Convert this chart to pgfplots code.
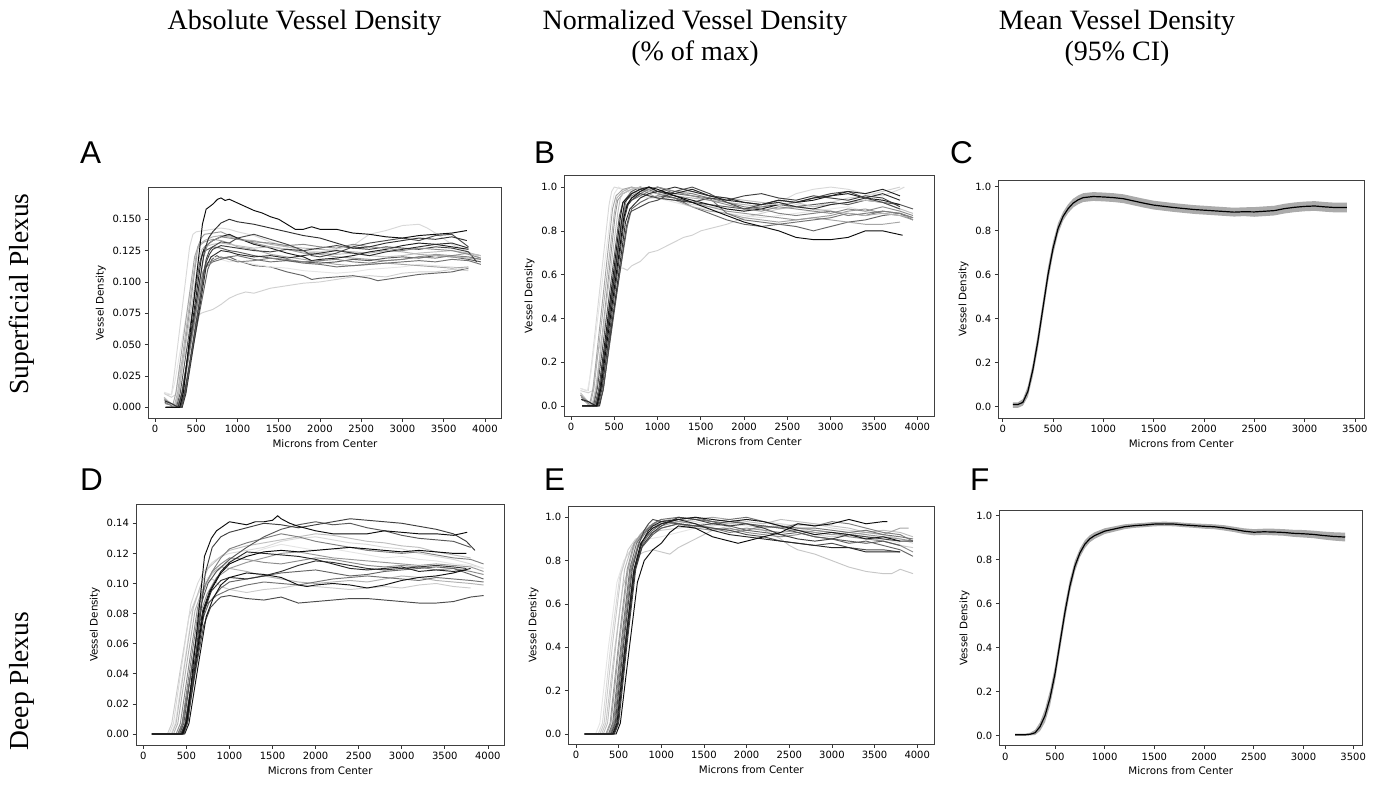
\documentclass[border=0pt]{standalone}
\usepackage{fontspec}
\setmainfont{Liberation Serif}
\newfontfamily\dejavu{DejaVu Sans}
\newfontfamily\arialf{Liberation Sans}
\usepackage{pgfplots}
\usepackage{pgfplotstable}
\pgfplotsset{compat=1.18}
\usepgfplotslibrary{fillbetween}

\pgfplotstableread{
x mean lo hi
100 0.010 -0.005 0.020
150 0.010 -0.005 0.020
200 0.020 0.005 0.035
250 0.070 0.045 0.095
300 0.170 0.140 0.200
350 0.300 0.265 0.335
400 0.450 0.415 0.485
450 0.600 0.565 0.635
500 0.720 0.690 0.750
550 0.810 0.785 0.835
600 0.865 0.845 0.885
650 0.900 0.880 0.920
700 0.925 0.905 0.945
750 0.940 0.920 0.960
800 0.950 0.930 0.970
900 0.955 0.935 0.975
1000 0.953 0.933 0.973
1100 0.950 0.930 0.970
1200 0.945 0.925 0.965
1300 0.935 0.915 0.955
1400 0.925 0.905 0.945
1500 0.916 0.896 0.936
1700 0.905 0.885 0.925
1900 0.896 0.876 0.916
2100 0.890 0.870 0.910
2300 0.884 0.864 0.904
2400 0.886 0.866 0.906
2500 0.885 0.863 0.907
2600 0.888 0.866 0.910
2700 0.891 0.869 0.913
2800 0.900 0.878 0.922
2900 0.906 0.884 0.928
3000 0.910 0.888 0.932
3100 0.912 0.890 0.934
3200 0.908 0.886 0.930
3300 0.905 0.883 0.927
3420 0.905 0.883 0.927
}\tabC

\pgfplotstableread{
x mean lo hi
100 0.003 -0.002 0.008
200 0.003 -0.002 0.008
250 0.005 0.000 0.012
300 0.012 0.002 0.025
350 0.040 0.020 0.060
400 0.090 0.060 0.120
450 0.170 0.135 0.205
500 0.280 0.245 0.315
550 0.420 0.385 0.455
600 0.560 0.525 0.595
650 0.680 0.650 0.710
700 0.770 0.745 0.795
750 0.830 0.810 0.850
800 0.870 0.852 0.888
850 0.895 0.879 0.911
900 0.910 0.895 0.925
1000 0.930 0.917 0.943
1100 0.940 0.928 0.952
1200 0.950 0.939 0.961
1300 0.955 0.945 0.965
1400 0.958 0.948 0.968
1500 0.962 0.952 0.972
1600 0.963 0.953 0.973
1700 0.962 0.952 0.972
1800 0.958 0.948 0.968
1900 0.955 0.945 0.965
2000 0.952 0.941 0.963
2100 0.950 0.939 0.961
2200 0.945 0.933 0.957
2300 0.938 0.926 0.950
2400 0.930 0.917 0.943
2500 0.925 0.911 0.939
2600 0.927 0.913 0.941
2700 0.926 0.911 0.941
2800 0.924 0.909 0.939
2900 0.920 0.904 0.936
3000 0.918 0.901 0.935
3100 0.915 0.898 0.932
3200 0.910 0.892 0.928
3300 0.906 0.887 0.925
3420 0.903 0.883 0.923
}\tabF

\pgfplotsset{
  panel/.style={
    scale only axis, anchor=south west,
    tick align=outside, major tick length=3.5pt,
    tick style={black!80, line width=0.7pt},
    axis line style={black!75, line width=0.8pt},
    tick label style={font=\dejavu\fontsize{10}{12}\selectfont},
    label style={font=\dejavu\fontsize{10.3}{12}\selectfont},
    /pgf/number format/assume math mode=true,
    /pgf/number format/1000 sep={},
    xlabel={Microns from Center}, ylabel={Vessel Density},
    every axis plot/.append style={line width=0.95pt, mark=none},
    xticklabel style={/pgf/number format/fixed},
  },
  y3/.style={yticklabel style={/pgf/number format/.cd, fixed, fixed zerofill, precision=3}},
  y2/.style={yticklabel style={/pgf/number format/.cd, fixed, fixed zerofill, precision=2}},
  y1/.style={yticklabel style={/pgf/number format/.cd, fixed, fixed zerofill, precision=1}},
}

\begin{document}
\begin{tikzpicture}
\path (0,0) rectangle (1378pt,-784pt);

% column titles
\node[anchor=base, font=\fontsize{28}{30}\selectfont] at (304.5pt,-30pt) {Absolute Vessel Density};
\node[anchor=base, font=\fontsize{28}{30}\selectfont] at (695pt,-30pt) {Normalized Vessel Density};
\node[anchor=base, font=\fontsize{28}{30}\selectfont] at (695pt,-60pt) {(\% of max)};
\node[anchor=base, font=\fontsize{28}{30}\selectfont] at (1117pt,-30pt) {Mean Vessel Density};
\node[anchor=base, font=\fontsize{28}{30}\selectfont] at (1117pt,-60pt) {(95\% CI)};
% row labels
\node[anchor=base, rotate=90, font=\fontsize{27.5}{30}\selectfont] at (28pt,-294pt) {Superficial Plexus};
\node[anchor=base, rotate=90, font=\fontsize{27.5}{30}\selectfont] at (28pt,-681pt) {Deep Plexus};
% panel letters
\node[anchor=base west, inner sep=0pt, font=\arialf\fontsize{31.5}{32}\selectfont] at (80pt,-163.5pt) {A};
\node[anchor=base west, inner sep=0pt, font=\arialf\fontsize{31.5}{32}\selectfont] at (534pt,-163.5pt) {B};
\node[anchor=base west, inner sep=0pt, font=\arialf\fontsize{31.5}{32}\selectfont] at (950pt,-163.5pt) {C};
\node[anchor=base west, inner sep=0pt, font=\arialf\fontsize{31.5}{32}\selectfont] at (80pt,-490pt) {D};
\node[anchor=base west, inner sep=0pt, font=\arialf\fontsize{31.5}{32}\selectfont] at (544pt,-490pt) {E};
\node[anchor=base west, inner sep=0pt, font=\arialf\fontsize{31.5}{32}\selectfont] at (970pt,-490pt) {F};

% ---------------- A ----------------
\begin{axis}[panel, y3, xtick pos=left, ytick pos=left, at={(148.3pt,-418.3pt)}, width=353.4pt, height=231pt,
  xmin=-81, xmax=4203, ymin=-0.0088, ymax=0.1755,
  xtick={0,500,1000,1500,2000,2500,3000,3500,4000},
  ytick={0,0.025,0.05,0.075,0.1,0.125,0.15}]
\addplot[black!18] coordinates {(110,0.011) (200,0.008) (250,0.010) (300,0.030) (520,0.073) (560,0.075) (600,0.076) (700,0.078) (800,0.082) (900,0.087) (1000,0.090) (1100,0.092) (1200,0.091) (1300,0.093) (1400,0.095) (1600,0.097) (1800,0.099) (2000,0.100) (2200,0.102) (2400,0.104) (2600,0.105) (2800,0.104) (3000,0.107) (3200,0.108) (3400,0.108) (3600,0.110) (3800,0.109)};
\addplot[black!15] coordinates {(110,0.011) (180,0.010) (200,0.010) (240,0.030) (420,0.128) (460,0.138) (500,0.140) (600,0.141) (700,0.142) (800,0.143) (900,0.142) (1000,0.140) (1200,0.137) (1400,0.132) (1600,0.128) (1800,0.125) (2000,0.124) (2200,0.126) (2400,0.129) (2600,0.138) (2800,0.141) (3000,0.145) (3200,0.146) (3300,0.143) (3400,0.139) (3600,0.130) (3800,0.124) (3950,0.119)};
\addplot[black!60] coordinates {(120,0.004) (300,0) (350,0.010) (640,0.110) (690,0.118) (750,0.121) (800,0.119) (900,0.120) (1000,0.117) (1100,0.115) (1200,0.113) (1400,0.112) (1600,0.108) (1800,0.105) (1900,0.102) (2000,0.103) (2200,0.104) (2400,0.105) (2600,0.103) (2700,0.101) (2800,0.102) (3000,0.104) (3200,0.106) (3400,0.107) (3600,0.108) (3800,0.111)};
\addplot[black!10] coordinates {(110,0.012) (200,0.010) (240,0.020) (480,0.112) (520,0.120) (600,0.121) (700,0.120) (800,0.118) (900,0.116) (1000,0.117) (1200,0.114) (1400,0.112) (1600,0.111) (1800,0.109) (2000,0.108) (2200,0.107) (2400,0.108) (2600,0.110) (2800,0.111) (3000,0.112) (3200,0.114) (3400,0.113) (3600,0.112) (3800,0.110)};
\addplot[black!35] coordinates {(110,0.007) (210,0) (255,0.012) (480,0.120) (520,0.128) (600,0.132) (700,0.134) (800,0.133) (900,0.131) (1000,0.128) (1200,0.126) (1400,0.122) (1600,0.120) (1800,0.118) (2000,0.116) (2200,0.114) (2400,0.113) (2600,0.114) (2800,0.115) (3000,0.114) (3200,0.113) (3400,0.112) (3600,0.111) (3800,0.112)};
\addplot[black!40] coordinates {(110,0.006) (250,0) (290,0.012) (520,0.128) (560,0.135) (600,0.138) (700,0.139) (800,0.140) (900,0.137) (1000,0.135) (1200,0.131) (1400,0.128) (1600,0.126) (1800,0.123) (2000,0.122) (2200,0.120) (2400,0.119) (2600,0.118) (2800,0.117) (3000,0.118) (3200,0.120) (3400,0.122) (3600,0.121) (3800,0.123) (3950,0.121)};
\addplot[black!55] coordinates {(130,0) (270,0) (320,0.010) (570,0.104) (620,0.112) (700,0.116) (800,0.118) (900,0.120) (1000,0.121) (1200,0.118) (1400,0.116) (1600,0.117) (1800,0.115) (2000,0.114) (2200,0.112) (2400,0.113) (2600,0.114) (2800,0.115) (3000,0.116) (3200,0.117) (3400,0.116) (3600,0.118) (3800,0.117) (3950,0.114)};
\addplot[black!65] coordinates {(120,0.004) (260,0) (305,0.011) (540,0.115) (580,0.124) (700,0.128) (800,0.127) (900,0.125) (1000,0.124) (1200,0.121) (1400,0.119) (1600,0.117) (1800,0.116) (2000,0.115) (2200,0.116) (2400,0.118) (2600,0.117) (2800,0.119) (3000,0.120) (3200,0.119) (3400,0.121) (3600,0.120) (3800,0.118) (3950,0.116)};
\addplot[black!30] coordinates {(120,0.005) (230,0) (275,0.012) (500,0.122) (540,0.130) (600,0.133) (700,0.136) (800,0.137) (900,0.136) (1000,0.134) (1200,0.133) (1400,0.130) (1600,0.128) (1800,0.127) (2000,0.126) (2200,0.125) (2400,0.124) (2600,0.123) (2800,0.125) (3000,0.124) (3200,0.122) (3400,0.121) (3600,0.120) (3800,0.119) (3950,0.118)};
\addplot[black!88] coordinates {(140,0) (290,0) (335,0.011) (560,0.118) (600,0.128) (700,0.133) (800,0.136) (900,0.138) (1000,0.135) (1200,0.130) (1400,0.127) (1600,0.123) (1800,0.120) (1900,0.117) (2000,0.118) (2200,0.119) (2400,0.121) (2600,0.124) (2800,0.126) (3000,0.129) (3200,0.131) (3400,0.130) (3600,0.128) (3800,0.126)};
\addplot[black!50] coordinates {(120,0.003) (290,0) (335,0.010) (580,0.108) (630,0.115) (700,0.117) (800,0.120) (900,0.118) (1000,0.116) (1200,0.117) (1400,0.119) (1600,0.118) (1800,0.116) (2000,0.117) (2200,0.118) (2400,0.116) (2600,0.115) (2800,0.117) (3000,0.118) (3200,0.120) (3400,0.119) (3600,0.121) (3800,0.120) (3950,0.118)};
\addplot[black!25] coordinates {(110,0.008) (240,0) (285,0.012) (530,0.118) (570,0.126) (600,0.128) (700,0.130) (800,0.131) (900,0.130) (1000,0.129) (1200,0.127) (1400,0.128) (1600,0.126) (1800,0.124) (2000,0.123) (2200,0.122) (2400,0.123) (2600,0.121) (2800,0.120) (3000,0.121) (3200,0.123) (3400,0.124) (3600,0.125) (3800,0.123) (3950,0.121)};
\addplot[black!75] coordinates {(130,0) (310,0) (360,0.011) (610,0.114) (660,0.122) (700,0.126) (800,0.129) (900,0.128) (1000,0.127) (1200,0.125) (1400,0.124) (1600,0.126) (1800,0.125) (2000,0.127) (2200,0.129) (2400,0.127) (2600,0.126) (2800,0.128) (3000,0.127) (3200,0.126) (3400,0.128) (3600,0.127) (3800,0.124) (3900,0.116)};
\addplot[black!82] coordinates {(130,0) (330,0) (375,0.011) (620,0.112) (680,0.120) (800,0.125) (900,0.124) (1000,0.122) (1200,0.120) (1400,0.121) (1600,0.119) (1800,0.121) (2000,0.123) (2200,0.125) (2400,0.123) (2600,0.121) (2800,0.124) (3000,0.126) (3200,0.128) (3400,0.130) (3600,0.131) (3800,0.127)};
\addplot[black!45] coordinates {(120,0.006) (280,0) (330,0.012) (590,0.120) (640,0.130) (700,0.133) (800,0.136) (900,0.135) (1000,0.134) (1200,0.132) (1400,0.131) (1600,0.129) (1800,0.130) (2000,0.128) (2200,0.127) (2400,0.130) (2600,0.128) (2800,0.127) (3000,0.125) (3200,0.127) (3400,0.126) (3600,0.125) (3800,0.122) (3950,0.119)};
\addplot[black!70] coordinates {(130,0) (320,0) (370,0.012) (620,0.118) (660,0.125) (700,0.128) (800,0.132) (900,0.131) (1000,0.135) (1200,0.138) (1400,0.134) (1600,0.130) (1800,0.125) (1900,0.121) (2000,0.120) (2200,0.123) (2400,0.128) (2600,0.131) (2800,0.133) (3000,0.135) (3200,0.133) (3400,0.137) (3600,0.138) (3800,0.128)};
\addplot[black!80] coordinates {(120,0.005) (200,0.003) (280,0) (330,0.012) (600,0.125) (650,0.135) (700,0.140) (800,0.147) (900,0.150) (1000,0.148) (1100,0.147) (1200,0.146) (1400,0.143) (1600,0.140) (1800,0.137) (2000,0.135) (2200,0.131) (2400,0.127) (2600,0.128) (2800,0.131) (3000,0.133) (3200,0.135) (3400,0.134) (3600,0.136) (3780,0.133)};
\addplot[black!95] coordinates {(130,0) (300,0) (345,0.012) (575,0.146) (620,0.158) (700,0.162) (760,0.166) (800,0.167) (850,0.165) (900,0.166) (1000,0.163) (1100,0.160) (1200,0.157) (1300,0.155) (1400,0.152) (1500,0.150) (1600,0.146) (1700,0.142) (1800,0.142) (1900,0.144) (2000,0.142) (2200,0.142) (2400,0.139) (2600,0.138) (2800,0.136) (3000,0.135) (3200,0.137) (3400,0.138) (3600,0.139) (3780,0.141)};
\end{axis}

% ---------------- B ----------------
\begin{axis}[panel, y1, xtick pos=left, ytick pos=left, at={(564.3pt,-416pt)}, width=369.7pt, height=240.3pt,
  xmin=-77, xmax=4193, ymin=-0.046, ymax=1.052,
  xtick={0,500,1000,1500,2000,2500,3000,3500,4000},
  ytick={0,0.2,0.4,0.6,0.8,1.0}]
\addplot[black!18] coordinates {(110,0.07) (200,0.06) (250,0.07) (300,0.22) (530,0.61) (570,0.63) (600,0.63) (650,0.62) (700,0.64) (800,0.66) (900,0.70) (1000,0.71) (1100,0.73) (1200,0.75) (1300,0.77) (1400,0.78) (1500,0.80) (1600,0.81) (1700,0.82) (1800,0.83) (2000,0.86) (2200,0.88) (2400,0.90) (2600,0.92) (2800,0.91) (3000,0.93) (3200,0.95) (3400,0.96) (3600,0.98) (3800,1.0)};
\addplot[black!15] coordinates {(110,0.08) (180,0.07) (200,0.07) (240,0.20) (440,0.92) (470,0.98) (500,1.0) (600,0.99) (700,0.98) (800,0.97) (900,0.96) (1000,0.95) (1200,0.94) (1400,0.92) (1600,0.91) (1800,0.90) (2000,0.89) (2200,0.91) (2400,0.93) (2600,0.97) (2800,0.99) (3000,1.0) (3200,0.99) (3400,0.97) (3600,0.96) (3800,0.99) (3850,1.0)};
\addplot[black!60] coordinates {(120,0.03) (300,0) (350,0.08) (650,0.82) (700,0.90) (800,0.93) (900,0.95) (1000,0.96) (1200,0.95) (1400,0.91) (1600,0.88) (1800,0.85) (2000,0.83) (2200,0.82) (2400,0.83) (2600,0.82) (2800,0.80) (3000,0.82) (3200,0.84) (3400,0.85) (3600,0.87) (3800,0.88) (3950,0.85)};
\addplot[black!10] coordinates {(110,0.08) (190,0.07) (230,0.15) (470,0.91) (500,0.97) (550,1.0) (600,0.99) (700,0.97) (800,0.96) (900,0.95) (1000,0.95) (1200,0.93) (1400,0.91) (1600,0.90) (1800,0.88) (2000,0.87) (2200,0.86) (2400,0.87) (2600,0.88) (2800,0.89) (3000,0.90) (3200,0.91) (3400,0.89) (3600,0.88) (3800,0.87)};
\addplot[black!35] coordinates {(110,0.05) (210,0) (255,0.08) (480,0.90) (520,0.96) (600,0.99) (700,1.0) (800,0.99) (900,0.97) (1000,0.95) (1200,0.94) (1400,0.91) (1600,0.89) (1800,0.88) (2000,0.86) (2200,0.85) (2400,0.84) (2600,0.85) (2800,0.86) (3000,0.85) (3200,0.84) (3400,0.83) (3600,0.83) (3800,0.84)};
\addplot[black!40] coordinates {(110,0.05) (250,0) (295,0.08) (510,0.87) (540,0.94) (600,0.97) (700,0.99) (800,1.0) (900,0.98) (1000,0.97) (1200,0.95) (1400,0.93) (1600,0.91) (1800,0.89) (2000,0.88) (2200,0.87) (2400,0.86) (2600,0.85) (2800,0.86) (3000,0.87) (3200,0.89) (3400,0.90) (3600,0.88) (3800,0.87) (3950,0.85)};
\addplot[black!55] coordinates {(130,0) (270,0) (320,0.07) (580,0.84) (620,0.90) (700,0.94) (800,0.96) (900,0.98) (1000,1.0) (1200,0.97) (1400,0.96) (1600,0.95) (1800,0.88) (2000,0.85) (2200,0.84) (2400,0.83) (2600,0.84) (2800,0.85) (3000,0.86) (3200,0.88) (3400,0.87) (3600,0.89) (3800,0.88) (3950,0.86)};
\addplot[black!65] coordinates {(120,0.03) (260,0) (305,0.08) (560,0.87) (600,0.93) (700,0.98) (800,1.0) (900,0.99) (1000,0.97) (1200,0.95) (1400,0.93) (1600,0.92) (1800,0.91) (2000,0.90) (2200,0.91) (2400,0.92) (2600,0.91) (2800,0.92) (3000,0.93) (3200,0.92) (3400,0.94) (3600,0.93) (3800,0.92) (3950,0.90)};
\addplot[black!30] coordinates {(120,0.04) (220,0) (265,0.08) (500,0.88) (530,0.95) (600,0.98) (700,1.0) (800,0.99) (900,0.98) (1000,0.97) (1200,0.96) (1400,0.95) (1600,0.94) (1800,0.93) (2000,0.92) (2200,0.91) (2400,0.90) (2600,0.91) (2800,0.90) (3000,0.89) (3200,0.88) (3400,0.87) (3600,0.88) (3800,0.87) (3950,0.86)};
\addplot[black!90] coordinates {(140,0) (280,0) (325,0.08) (570,0.86) (600,0.93) (700,0.97) (800,0.99) (900,1.0) (1000,0.98) (1200,0.96) (1400,0.94) (1600,0.92) (1800,0.90) (2000,0.89) (2200,0.90) (2400,0.92) (2600,0.93) (2800,0.94) (3000,0.96) (3200,0.97) (3400,0.95) (3600,0.94) (3800,0.92)};
\addplot[black!50] coordinates {(120,0.03) (290,0) (335,0.08) (590,0.84) (630,0.91) (700,0.95) (800,0.97) (900,0.99) (1000,1.0) (1200,0.98) (1400,0.97) (1600,0.95) (1800,0.93) (2000,0.91) (2200,0.90) (2400,0.88) (2600,0.87) (2800,0.88) (3000,0.89) (3200,0.87) (3400,0.88) (3600,0.89) (3800,0.88) (3950,0.86)};
\addplot[black!25] coordinates {(110,0.06) (240,0) (285,0.08) (540,0.88) (570,0.95) (600,0.97) (700,0.99) (800,1.0) (900,0.99) (1000,0.98) (1200,0.97) (1400,0.98) (1600,0.96) (1800,0.95) (2000,0.94) (2200,0.93) (2400,0.92) (2600,0.93) (2800,0.91) (3000,0.92) (3200,0.93) (3400,0.94) (3600,0.93) (3800,0.90) (3950,0.88)};
\addplot[black!75] coordinates {(130,0) (310,0) (360,0.08) (620,0.86) (660,0.92) (700,0.94) (800,0.97) (900,0.96) (1000,0.95) (1200,0.94) (1400,0.93) (1600,0.95) (1800,0.94) (2000,0.96) (2200,0.97) (2400,0.95) (2600,0.94) (2800,0.96) (3000,0.95) (3200,0.94) (3400,0.96) (3600,0.95) (3800,0.91)};
\addplot[black!82] coordinates {(130,0) (330,0) (375,0.08) (630,0.84) (680,0.90) (800,0.95) (900,0.97) (1000,0.98) (1200,1.0) (1400,0.98) (1600,0.96) (1800,0.95) (2000,0.93) (2200,0.92) (2400,0.93) (2600,0.91) (2800,0.90) (3000,0.92) (3200,0.93) (3400,0.95) (3600,0.97) (3800,0.94)};
\addplot[black!45] coordinates {(120,0.04) (280,0) (330,0.08) (600,0.87) (640,0.94) (700,0.96) (800,0.98) (900,0.99) (1000,1.0) (1200,0.98) (1400,0.96) (1600,0.94) (1800,0.92) (2000,0.90) (2200,0.89) (2400,0.91) (2600,0.90) (2800,0.89) (3000,0.88) (3200,0.90) (3400,0.89) (3600,0.91) (3800,0.89) (3950,0.87)};
\addplot[black!70] coordinates {(130,0) (320,0) (370,0.07) (640,0.82) (680,0.88) (700,0.89) (800,0.91) (900,0.93) (1000,0.94) (1200,0.98) (1400,1.0) (1600,0.97) (1800,0.93) (2000,0.90) (2200,0.92) (2400,0.94) (2600,0.93) (2800,0.95) (3000,0.97) (3200,0.98) (3400,0.95) (3600,0.93) (3800,0.90)};
\addplot[black!85] coordinates {(120,0.03) (200,0.02) (290,0) (335,0.08) (590,0.86) (620,0.93) (700,0.97) (800,0.99) (900,1.0) (1000,0.98) (1200,0.97) (1400,0.99) (1600,0.96) (1800,0.94) (2000,0.93) (2200,0.92) (2400,0.94) (2600,0.93) (2800,0.95) (3000,0.96) (3200,0.98) (3400,0.97) (3600,0.99) (3800,0.96)};
\addplot[black!95] coordinates {(130,0) (300,0) (345,0.08) (610,0.86) (650,0.92) (700,0.95) (800,0.98) (900,1.0) (1000,0.99) (1200,0.96) (1400,0.93) (1600,0.90) (1800,0.87) (2000,0.84) (2200,0.82) (2400,0.80) (2600,0.77) (2800,0.76) (3000,0.76) (3200,0.77) (3400,0.80) (3600,0.80) (3830,0.78)};
\end{axis}

% ---------------- C ----------------
\begin{axis}[panel, y1, xtick pos=left, ytick pos=left, at={(998.3pt,-418pt)}, width=365.7pt, height=238pt,
  xmin=-44, xmax=3591, ymin=-0.051, ymax=1.030,
  xtick={0,500,1000,1500,2000,2500,3000,3500},
  ytick={0,0.2,0.4,0.6,0.8,1.0}]
\addplot[draw=none, name path=cl] table[x=x, y=lo] {\tabC};
\addplot[draw=none, name path=ch] table[x=x, y=hi] {\tabC};
\addplot[black!33] fill between[of=ch and cl];
\addplot[black, line width=1.2pt] table[x=x, y=mean] {\tabC};
\end{axis}

% ---------------- D ----------------
\begin{axis}[panel, y2, xtick pos=left, ytick pos=left, at={(136pt,-745pt)}, width=368.3pt, height=241pt,
  xmin=-85, xmax=4191, ymin=-0.0073, ymax=0.1528,
  xtick={0,500,1000,1500,2000,2500,3000,3500,4000},
  ytick={0,0.02,0.04,0.06,0.08,0.1,0.12,0.14}]
\addplot[black!20] coordinates {(100,0) (280,0) (330,0.007) (430,0.043) (530,0.078) (610,0.090) (700,0.100) (800,0.103) (900,0.098) (1000,0.096) (1200,0.094) (1400,0.096) (1600,0.097) (1800,0.099) (2000,0.098) (2200,0.097) (2400,0.096) (2600,0.097) (2800,0.098) (3000,0.097) (3200,0.099) (3400,0.100) (3600,0.098) (3800,0.097)};
\addplot[black!15] coordinates {(100,0) (300,0) (350,0.007) (450,0.047) (550,0.086) (630,0.100) (700,0.108) (800,0.114) (900,0.118) (1000,0.120) (1200,0.122) (1400,0.124) (1600,0.128) (1800,0.130) (2000,0.131) (2200,0.129) (2400,0.127) (2600,0.126) (2800,0.124) (3000,0.123) (3200,0.120) (3400,0.118) (3600,0.116) (3800,0.113) (3950,0.110)};
\addplot[black!70] coordinates {(100,0) (450,0) (500,0.006) (600,0.040) (700,0.072) (780,0.084) (860,0.089) (900,0.091) (1000,0.092) (1200,0.090) (1400,0.089) (1600,0.091) (1800,0.087) (2000,0.088) (2200,0.089) (2400,0.090) (2600,0.090) (2800,0.089) (3000,0.088) (3200,0.087) (3400,0.087) (3600,0.088) (3800,0.091) (3950,0.092)};
\addplot[black!10] coordinates {(100,0) (320,0) (370,0.007) (470,0.045) (570,0.082) (650,0.095) (750,0.104) (900,0.110) (1000,0.115) (1200,0.119) (1400,0.123) (1600,0.126) (1800,0.124) (2000,0.122) (2200,0.123) (2400,0.121) (2600,0.119) (2800,0.117) (3000,0.118) (3200,0.116) (3400,0.115) (3600,0.113) (3800,0.112) (3950,0.110)};
\addplot[black!25] coordinates {(100,0) (330,0) (380,0.007) (480,0.046) (580,0.084) (660,0.098) (750,0.110) (900,0.118) (1000,0.122) (1200,0.125) (1400,0.127) (1600,0.129) (1800,0.131) (2000,0.133) (2200,0.132) (2400,0.130) (2600,0.128) (2800,0.127) (3000,0.125) (3200,0.124) (3400,0.121) (3600,0.119) (3800,0.117)};
\addplot[black!50] coordinates {(100,0) (400,0) (450,0.007) (550,0.047) (650,0.086) (730,0.100) (800,0.108) (900,0.117) (1000,0.123) (1200,0.127) (1400,0.130) (1600,0.133) (1800,0.131) (2000,0.128) (2200,0.126) (2400,0.124) (2600,0.122) (2800,0.121) (3000,0.120) (3200,0.121) (3400,0.119) (3600,0.117) (3800,0.116) (3950,0.113)};
\addplot[black!30] coordinates {(100,0) (350,0) (400,0.007) (500,0.045) (600,0.082) (680,0.095) (800,0.107) (900,0.111) (1000,0.110) (1200,0.108) (1400,0.105) (1600,0.103) (1800,0.101) (2000,0.100) (2200,0.101) (2400,0.102) (2600,0.101) (2800,0.103) (3000,0.105) (3200,0.104) (3400,0.102) (3600,0.101) (3800,0.100) (3950,0.099)};
\addplot[black!45] coordinates {(100,0) (380,0) (430,0.007) (530,0.046) (630,0.084) (710,0.098) (800,0.108) (900,0.113) (1000,0.117) (1200,0.116) (1400,0.114) (1600,0.113) (1800,0.115) (2000,0.117) (2200,0.116) (2400,0.114) (2600,0.112) (2800,0.111) (3000,0.112) (3200,0.111) (3400,0.109) (3600,0.110) (3800,0.108) (3950,0.106)};
\addplot[black!40] coordinates {(100,0) (410,0) (460,0.007) (560,0.044) (660,0.080) (740,0.093) (850,0.104) (1000,0.110) (1200,0.114) (1400,0.117) (1600,0.120) (1800,0.121) (2000,0.119) (2200,0.117) (2400,0.116) (2600,0.115) (2800,0.114) (3000,0.113) (3200,0.112) (3400,0.113) (3600,0.112) (3800,0.111) (3950,0.108)};
\addplot[black!55] coordinates {(100,0) (400,0) (450,0.006) (550,0.040) (650,0.074) (730,0.086) (850,0.092) (1000,0.096) (1200,0.099) (1400,0.101) (1600,0.100) (1800,0.099) (2000,0.101) (2200,0.103) (2400,0.104) (2600,0.105) (2800,0.104) (3000,0.103) (3200,0.102) (3400,0.104) (3600,0.103) (3800,0.102) (3950,0.101)};
\addplot[black!60] coordinates {(100,0) (430,0) (480,0.006) (580,0.041) (680,0.075) (760,0.087) (900,0.097) (1000,0.101) (1200,0.103) (1400,0.105) (1600,0.107) (1800,0.108) (2000,0.109) (2200,0.107) (2400,0.105) (2600,0.106) (2800,0.108) (3000,0.109) (3200,0.110) (3400,0.111) (3600,0.110) (3800,0.106) (3950,0.103)};
\addplot[black!65] coordinates {(100,0) (420,0) (470,0.007) (570,0.047) (670,0.086) (750,0.100) (850,0.108) (1000,0.116) (1200,0.124) (1400,0.131) (1600,0.136) (1800,0.139) (2000,0.141) (2200,0.139) (2400,0.140) (2600,0.137) (2800,0.135) (3000,0.132) (3200,0.130) (3400,0.129) (3600,0.128) (3800,0.124)};
\addplot[black!80] coordinates {(100,0) (460,0) (510,0.007) (610,0.045) (710,0.082) (790,0.095) (900,0.102) (1000,0.104) (1200,0.103) (1400,0.105) (1600,0.108) (1800,0.112) (2000,0.115) (2200,0.114) (2400,0.112) (2600,0.110) (2800,0.109) (3000,0.110) (3200,0.111) (3400,0.112) (3600,0.111) (3750,0.110)};
\addplot[black!85] coordinates {(100,0) (440,0) (490,0.007) (590,0.045) (690,0.082) (770,0.095) (900,0.108) (1000,0.114) (1200,0.121) (1400,0.120) (1600,0.119) (1800,0.118) (2000,0.116) (2200,0.113) (2400,0.110) (2600,0.109) (2800,0.110) (3000,0.111) (3200,0.108) (3400,0.109) (3600,0.108) (3750,0.109)};
\addplot[black!92] coordinates {(100,0) (480,0) (530,0.007) (630,0.043) (730,0.078) (810,0.090) (900,0.099) (1000,0.104) (1200,0.107) (1400,0.106) (1600,0.104) (1800,0.099) (1900,0.098) (2000,0.099) (2200,0.100) (2400,0.099) (2600,0.097) (2800,0.099) (3000,0.102) (3200,0.104) (3400,0.105) (3600,0.107) (3800,0.110)};
\addplot[black!97] coordinates {(100,0) (450,0) (500,0.007) (600,0.045) (700,0.082) (780,0.095) (900,0.107) (1000,0.113) (1200,0.118) (1400,0.121) (1600,0.122) (1800,0.121) (2000,0.122) (2200,0.123) (2400,0.124) (2600,0.123) (2800,0.122) (3000,0.121) (3200,0.122) (3400,0.121) (3600,0.120) (3750,0.120)};
\addplot[black!75] coordinates {(100,0) (470,0) (520,0.009) (620,0.058) (720,0.107) (800,0.124) (900,0.131) (1000,0.134) (1200,0.137) (1400,0.140) (1600,0.139) (1800,0.137) (2000,0.139) (2200,0.141) (2400,0.143) (2600,0.142) (2800,0.141) (3000,0.140) (3200,0.138) (3400,0.136) (3600,0.133) (3750,0.128) (3850,0.122)};
\addplot[black!95] coordinates {(100,0) (460,0) (510,0.010) (610,0.062) (710,0.118) (790,0.130) (850,0.135) (900,0.137) (1000,0.141) (1100,0.140) (1200,0.139) (1300,0.141) (1400,0.141) (1500,0.142) (1560,0.145) (1600,0.143) (1700,0.140) (1800,0.138) (2000,0.135) (2200,0.133) (2400,0.133) (2600,0.133) (2800,0.135) (3000,0.134) (3200,0.133) (3400,0.133) (3600,0.132) (3760,0.134)};
\end{axis}

% ---------------- E ----------------
\begin{axis}[panel, y1, xtick pos=left, ytick pos=left, at={(568.3pt,-744.3pt)}, width=366pt, height=238.3pt,
  xmin=-90, xmax=4200, ymin=-0.0475, ymax=1.052,
  xtick={0,500,1000,1500,2000,2500,3000,3500,4000},
  ytick={0,0.2,0.4,0.6,0.8,1.0}]
\addplot[black!22] coordinates {(100,0) (300,0) (350,0.05) (450,0.38) (550,0.68) (630,0.78) (700,0.82) (800,0.84) (900,0.85) (1000,0.84) (1100,0.83) (1200,0.86) (1400,0.90) (1600,0.94) (1800,0.96) (2000,0.97) (2200,0.94) (2400,0.90) (2500,0.87) (2600,0.85) (2800,0.83) (3000,0.80) (3200,0.77) (3400,0.75) (3600,0.74) (3700,0.74) (3800,0.76) (3950,0.74)};
\addplot[black!10] coordinates {(100,0) (230,0) (280,0.05) (380,0.40) (480,0.70) (560,0.80) (650,0.85) (750,0.88) (850,0.90) (1000,0.91) (1200,0.93) (1400,0.95) (1600,0.96) (1800,0.97) (2000,0.96) (2200,0.95) (2400,0.97) (2600,0.95) (2800,0.93) (3000,0.92) (3200,0.91) (3400,0.92) (3600,0.90) (3800,0.88)};
\addplot[black!15] coordinates {(100,0) (260,0) (310,0.05) (410,0.42) (510,0.72) (590,0.82) (700,0.88) (800,0.93) (900,0.95) (1000,0.97) (1200,0.99) (1400,0.98) (1600,0.96) (1800,0.97) (2000,0.99) (2200,0.98) (2400,0.97) (2600,0.96) (2800,0.97) (3000,0.95) (3200,0.94) (3400,0.93) (3600,0.92) (3800,0.90) (3950,0.88)};
\addplot[black!20] coordinates {(100,0) (280,0) (330,0.05) (430,0.42) (530,0.74) (610,0.85) (700,0.90) (800,0.92) (900,0.93) (1000,0.94) (1200,0.95) (1400,0.96) (1600,0.97) (1800,0.98) (2000,0.97) (2200,0.96) (2400,0.95) (2600,0.94) (2800,0.92) (3000,0.91) (3200,0.92) (3400,0.91) (3600,0.89) (3800,0.87) (3950,0.86)};
\addplot[black!25] coordinates {(100,0) (320,0) (370,0.05) (470,0.42) (570,0.76) (650,0.86) (750,0.92) (850,0.96) (1000,0.98) (1200,1.0) (1400,0.99) (1600,0.98) (1800,0.97) (2000,0.98) (2200,0.97) (2400,0.99) (2600,0.98) (2800,0.97) (3000,0.96) (3200,0.95) (3400,0.93) (3600,0.94) (3800,0.93) (3950,0.91)};
\addplot[black!35] coordinates {(100,0) (360,0) (410,0.05) (510,0.42) (610,0.76) (690,0.88) (800,0.93) (900,0.95) (1000,0.96) (1200,0.98) (1400,0.99) (1600,1.0) (1800,0.99) (2000,0.97) (2200,0.95) (2400,0.96) (2600,0.95) (2800,0.94) (3000,0.93) (3200,0.92) (3400,0.93) (3600,0.92) (3800,0.95) (3900,0.95)};
\addplot[black!40] coordinates {(100,0) (350,0) (400,0.05) (500,0.42) (600,0.76) (680,0.88) (800,0.94) (900,0.96) (1000,0.97) (1200,0.98) (1400,0.97) (1600,0.95) (1800,0.94) (2000,0.95) (2200,0.94) (2400,0.93) (2600,0.94) (2800,0.93) (3000,0.92) (3200,0.93) (3400,0.92) (3600,0.91) (3800,0.90) (3950,0.89)};
\addplot[black!45] coordinates {(100,0) (390,0) (440,0.05) (540,0.42) (640,0.76) (720,0.86) (800,0.90) (900,0.93) (1000,0.95) (1200,0.97) (1400,0.95) (1600,0.94) (1800,0.95) (2000,0.93) (2200,0.92) (2400,0.91) (2600,0.92) (2800,0.94) (3000,0.93) (3200,0.91) (3400,0.90) (3600,0.89) (3800,0.87) (3950,0.84)};
\addplot[black!50] coordinates {(100,0) (400,0) (450,0.05) (550,0.42) (650,0.76) (730,0.88) (850,0.95) (950,0.98) (1000,0.99) (1200,0.97) (1400,0.96) (1600,0.95) (1800,0.93) (2000,0.94) (2200,0.96) (2400,0.95) (2600,0.97) (2800,0.96) (3000,0.98) (3200,0.97) (3400,0.95) (3600,0.93) (3800,0.92) (3950,0.89)};
\addplot[black!55] coordinates {(100,0) (380,0) (430,0.05) (530,0.42) (630,0.76) (710,0.88) (800,0.93) (900,0.97) (1000,0.99) (1200,1.0) (1400,0.99) (1600,0.98) (1800,0.99) (2000,1.0) (2200,0.98) (2400,0.96) (2600,0.95) (2800,0.95) (3000,0.94) (3200,0.93) (3400,0.94) (3600,0.92) (3800,0.91) (3950,0.90)};
\addplot[black!60] coordinates {(100,0) (420,0) (470,0.05) (570,0.40) (670,0.74) (750,0.86) (850,0.92) (900,0.94) (1000,0.97) (1200,0.99) (1400,1.0) (1600,0.98) (1800,0.96) (2000,0.94) (2200,0.93) (2400,0.92) (2600,0.93) (2800,0.91) (3000,0.90) (3200,0.88) (3400,0.89) (3600,0.87) (3800,0.85) (3950,0.82)};
\addplot[black!65] coordinates {(100,0) (440,0) (490,0.05) (590,0.42) (690,0.76) (770,0.86) (900,0.92) (1000,0.95) (1200,0.97) (1400,0.96) (1600,0.97) (1800,0.98) (2000,0.97) (2200,0.96) (2400,0.95) (2600,0.93) (2800,0.91) (3000,0.90) (3200,0.89) (3400,0.88) (3600,0.89) (3800,0.87)};
\addplot[black!70] coordinates {(100,0) (410,0) (460,0.05) (560,0.42) (660,0.76) (740,0.88) (800,0.94) (850,0.97) (900,0.99) (1000,0.98) (1200,0.97) (1400,0.96) (1600,0.95) (1800,0.94) (2000,0.92) (2200,0.91) (2400,0.89) (2600,0.88) (2800,0.87) (3000,0.88) (3200,0.86) (3400,0.85) (3600,0.85) (3800,0.84)};
\addplot[black!75] coordinates {(100,0) (450,0) (500,0.05) (600,0.42) (700,0.76) (780,0.87) (900,0.93) (1000,0.96) (1200,1.0) (1400,0.99) (1600,0.97) (1800,0.96) (2000,0.97) (2200,0.95) (2400,0.92) (2600,0.90) (2800,0.89) (3000,0.90) (3200,0.92) (3400,0.91) (3600,0.90) (3800,0.89) (3950,0.89)};
\addplot[black!85] coordinates {(100,0) (440,0) (490,0.05) (590,0.42) (690,0.76) (770,0.88) (850,0.94) (900,0.96) (1000,0.98) (1200,0.99) (1400,0.97) (1600,0.94) (1800,0.92) (2000,0.91) (2200,0.90) (2400,0.89) (2600,0.88) (2800,0.87) (3000,0.86) (3200,0.86) (3400,0.84) (3600,0.84) (3800,0.84)};
\addplot[black!90] coordinates {(100,0) (430,0) (480,0.05) (580,0.42) (680,0.76) (760,0.88) (850,0.93) (900,0.95) (1000,0.97) (1200,0.99) (1400,1.0) (1600,0.99) (1800,0.98) (2000,0.99) (2200,0.98) (2400,0.96) (2600,0.94) (2800,0.92) (3000,0.93) (3200,0.92) (3400,0.90) (3600,0.91) (3800,0.89)};
\addplot[black!95] coordinates {(100,0) (470,0) (520,0.05) (620,0.38) (720,0.70) (800,0.80) (900,0.85) (1000,0.88) (1100,0.93) (1200,0.96) (1400,0.95) (1500,0.93) (1600,0.91) (1800,0.89) (1900,0.88) (2000,0.89) (2200,0.91) (2400,0.93) (2600,0.97) (2800,0.96) (3000,0.97) (3200,0.99) (3400,0.97) (3600,0.98) (3650,0.98)};
\end{axis}

% ---------------- F ----------------
\begin{axis}[panel, y1, xtick pos=left, ytick pos=left, at={(999.3pt,-745.7pt)}, width=363pt, height=235pt,
  xmin=-60, xmax=3592, ymin=-0.047, ymax=1.023,
  xtick={0,500,1000,1500,2000,2500,3000,3500},
  ytick={0,0.2,0.4,0.6,0.8,1.0}]
\addplot[draw=none, name path=fl] table[x=x, y=lo] {\tabF};
\addplot[draw=none, name path=fh] table[x=x, y=hi] {\tabF};
\addplot[black!33] fill between[of=fh and fl];
\addplot[black, line width=1.2pt] table[x=x, y=mean] {\tabF};
\end{axis}
\end{tikzpicture}
\end{document}
